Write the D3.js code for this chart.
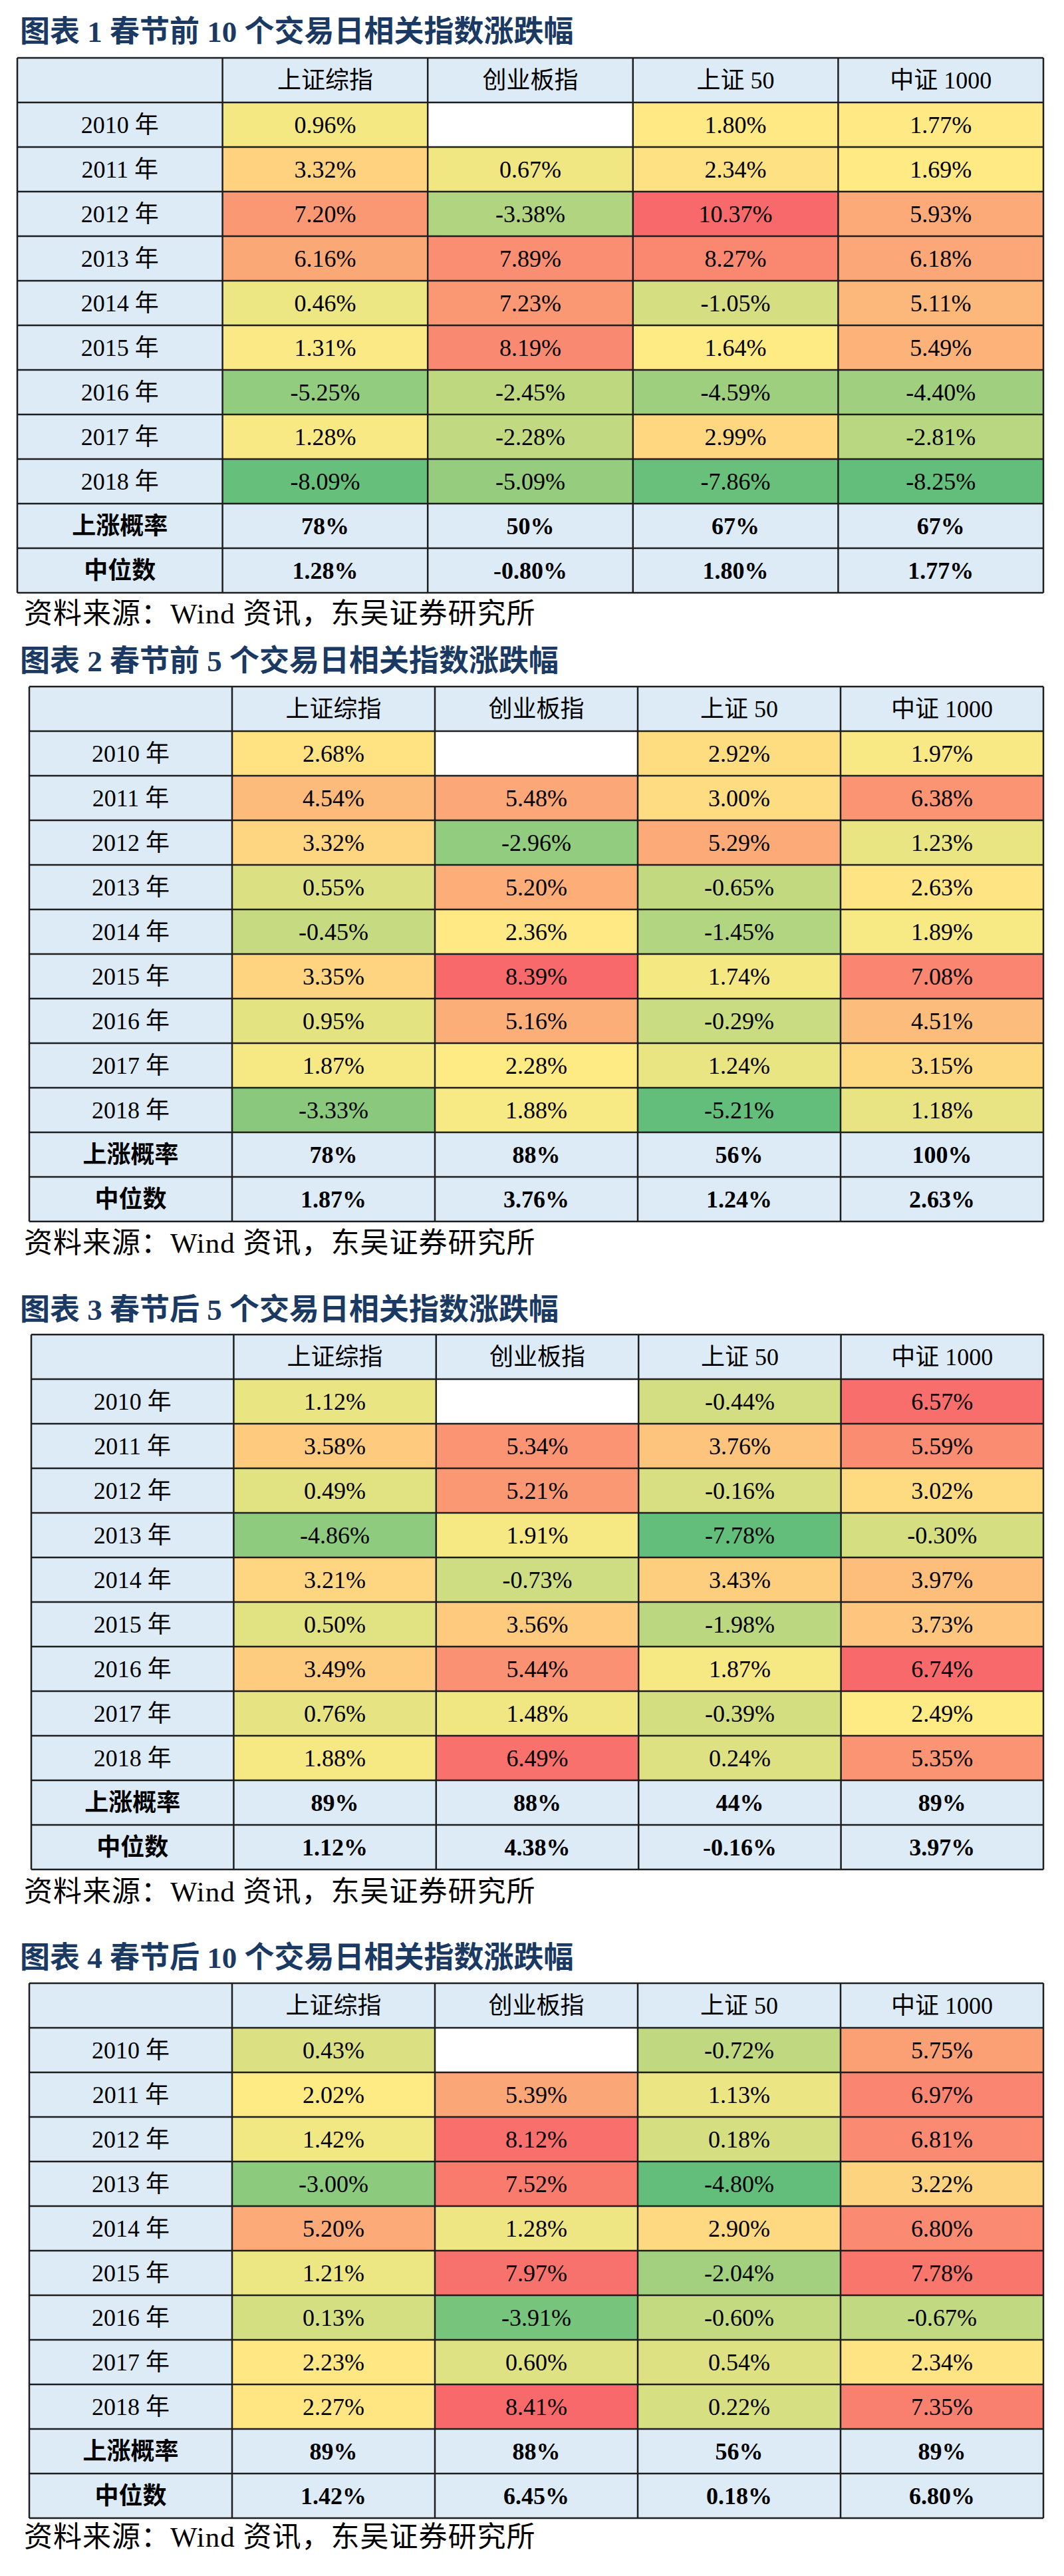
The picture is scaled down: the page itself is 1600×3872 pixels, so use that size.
<!DOCTYPE html>
<html>
<head>
<meta charset="utf-8">
<script src="https://cdn.jsdelivr.net/npm/d3@7/dist/d3.min.js"></script>
<style>
  html, body { margin: 0; padding: 0; background: #ffffff; }
  svg { display: block; }
</style>
</head>
<body>
<svg id="chart" width="1600" height="3872"></svg>
<script>
// ---------- DATA ----------
const years = ["2010 年", "2011 年", "2012 年", "2013 年", "2014 年", "2015 年", "2016 年", "2017 年", "2018 年"];
const columns = ["上证综指", "创业板指", "上证 50", "中证 1000"];
const summaryLabels = ["上涨概率", "中位数"];
const titles = [
  "图表 1 春节前 10 个交易日相关指数涨跌幅",
  "图表 2 春节前 5 个交易日相关指数涨跌幅",
  "图表 3 春节后 5 个交易日相关指数涨跌幅",
  "图表 4 春节后 10 个交易日相关指数涨跌幅"
];
const sourceText = "资料来源：Wind 资讯，东吴证券研究所";

// Table 1: 春节前10个交易日 (%)
const t1_szzz   = [0.96, 3.32, 7.20, 6.16, 0.46, 1.31, -5.25, 1.28, -8.09];
const t1_cybz   = [null, 0.67, -3.38, 7.89, 7.23, 8.19, -2.45, -2.28, -5.09];
const t1_sz50   = [1.80, 2.34, 10.37, 8.27, -1.05, 1.64, -4.59, 2.99, -7.86];
const t1_zz1000 = [1.77, 1.69, 5.93, 6.18, 5.11, 5.49, -4.40, -2.81, -8.25];
const t1_up     = ["78%", "50%", "67%", "67%"];
const t1_median = ["1.28%", "-0.80%", "1.80%", "1.77%"];

// Table 2: 春节前5个交易日 (%)
const t2_szzz   = [2.68, 4.54, 3.32, 0.55, -0.45, 3.35, 0.95, 1.87, -3.33];
const t2_cybz   = [null, 5.48, -2.96, 5.20, 2.36, 8.39, 5.16, 2.28, 1.88];
const t2_sz50   = [2.92, 3.00, 5.29, -0.65, -1.45, 1.74, -0.29, 1.24, -5.21];
const t2_zz1000 = [1.97, 6.38, 1.23, 2.63, 1.89, 7.08, 4.51, 3.15, 1.18];
const t2_up     = ["78%", "88%", "56%", "100%"];
const t2_median = ["1.87%", "3.76%", "1.24%", "2.63%"];

// Table 3: 春节后5个交易日 (%)
const t3_szzz   = [1.12, 3.58, 0.49, -4.86, 3.21, 0.50, 3.49, 0.76, 1.88];
const t3_cybz   = [null, 5.34, 5.21, 1.91, -0.73, 3.56, 5.44, 1.48, 6.49];
const t3_sz50   = [-0.44, 3.76, -0.16, -7.78, 3.43, -1.98, 1.87, -0.39, 0.24];
const t3_zz1000 = [6.57, 5.59, 3.02, -0.30, 3.97, 3.73, 6.74, 2.49, 5.35];
const t3_up     = ["89%", "88%", "44%", "89%"];
const t3_median = ["1.12%", "4.38%", "-0.16%", "3.97%"];

// Table 4: 春节后10个交易日 (%)
const t4_szzz   = [0.43, 2.02, 1.42, -3.00, 5.20, 1.21, 0.13, 2.23, 2.27];
const t4_cybz   = [null, 5.39, 8.12, 7.52, 1.28, 7.97, -3.91, 0.60, 8.41];
const t4_sz50   = [-0.72, 1.13, 0.18, -4.80, 2.90, -2.04, -0.60, 0.54, 0.22];
const t4_zz1000 = [5.75, 6.97, 6.81, 3.22, 6.80, 7.78, -0.67, 2.34, 7.35];
const t4_up     = ["89%", "88%", "56%", "89%"];
const t4_median = ["1.42%", "6.45%", "0.18%", "6.80%"];

// ---------- LAYOUT / STYLE ----------
const layouts = [
  { titleY: 47,   top: 87,   left: 26, right: 1569, srcY: 922 },
  { titleY: 993,  top: 1032, left: 44, right: 1569, srcY: 1868 },
  { titleY: 1968, top: 2006, left: 47, right: 1569, srcY: 2843 },
  { titleY: 2942, top: 2981, left: 44, right: 1569, srcY: 3813 }
];
const rowH = 67;
const FONT = "'Liberation Serif', 'Noto Sans CJK SC', serif";
const headBg = "#DDEBF7";
const lineColor = "#1e1e1e";

const tables = [
  { series: [t1_szzz, t1_cybz, t1_sz50, t1_zz1000], up: t1_up, med: t1_median },
  { series: [t2_szzz, t2_cybz, t2_sz50, t2_zz1000], up: t2_up, med: t2_median },
  { series: [t3_szzz, t3_cybz, t3_sz50, t3_zz1000], up: t3_up, med: t3_median },
  { series: [t4_szzz, t4_cybz, t4_sz50, t4_zz1000], up: t4_up, med: t4_median }
];

const svg = d3.select("#chart");
svg.append("rect").attr("width", 1600).attr("height", 3872).attr("fill", "#ffffff");
const locale = d3.formatLocale({ decimal: ".", thousands: ",", grouping: [3], currency: ["", ""], minus: "-" });
const fmt = locale.format(".2f");

tables.forEach((tb, ti) => {
  const L = layouts[ti];
  const g = svg.append("g");

  // Title
  g.append("text")
    .attr("x", 30).attr("y", L.titleY).attr("dy", "0.36em")
    .attr("font-family", FONT).attr("font-size", 45).attr("font-weight", 700)
    .attr("fill", "#1B3A63")
    .text(titles[ti]);

  const colKeys = ["label"].concat(columns);
  const rowKeys = ["header"].concat(years, summaryLabels);
  const x = d3.scaleBand().domain(colKeys).range([L.left, L.right]);
  const y = d3.scaleBand().domain(rowKeys).range([L.top, L.top + rowH * rowKeys.length]);

  // color scale across the whole table (3-colour scale: min / median / max)
  const all = tb.series.flat().filter(v => v != null);
  const color = d3.scaleLinear()
    .domain([d3.min(all), d3.median(all), d3.max(all)])
    .range(["#63BE7B", "#FFEB84", "#F8696B"])
    .interpolate(d3.interpolateRgb);

  // Build cells
  const cells = [];
  cells.push({ r: "header", c: "label", text: "", fill: headBg, bold: false });
  columns.forEach(c => cells.push({ r: "header", c: c, text: c, fill: headBg, bold: false }));
  years.forEach((yr, i) => {
    cells.push({ r: yr, c: "label", text: yr, fill: headBg, bold: false });
    columns.forEach((c, j) => {
      const v = tb.series[j][i];
      cells.push({ r: yr, c: c, text: v == null ? "" : fmt(v) + "%", fill: v == null ? "#ffffff" : color(v), bold: false });
    });
  });
  cells.push({ r: summaryLabels[0], c: "label", text: summaryLabels[0], fill: headBg, bold: true });
  columns.forEach((c, j) => cells.push({ r: summaryLabels[0], c: c, text: tb.up[j], fill: headBg, bold: true }));
  cells.push({ r: summaryLabels[1], c: "label", text: summaryLabels[1], fill: headBg, bold: true });
  columns.forEach((c, j) => cells.push({ r: summaryLabels[1], c: c, text: tb.med[j], fill: headBg, bold: true }));

  g.selectAll("rect.cell").data(cells).join("rect")
    .attr("class", "cell")
    .attr("x", d => x(d.c)).attr("y", d => y(d.r))
    .attr("width", x.bandwidth()).attr("height", y.bandwidth())
    .attr("fill", d => d.fill);

  g.selectAll("text.cell").data(cells.filter(d => d.text)).join("text")
    .attr("class", "cell")
    .attr("x", d => x(d.c) + x.bandwidth() / 2)
    .attr("y", d => y(d.r) + y.bandwidth() / 2)
    .attr("dy", "0.35em")
    .attr("text-anchor", "middle")
    .attr("font-family", FONT)
    .attr("font-size", 36)
    .attr("font-weight", d => d.bold ? 700 : 400)
    .attr("fill", "#000")
    .text(d => d.text);

  // Grid lines
  const yEdges = rowKeys.map(k => y(k)).concat([y.range()[1]]);
  const xEdges = colKeys.map(k => x(k)).concat([x.range()[1]]);
  g.selectAll("line.h").data(yEdges).join("line")
    .attr("x1", L.left).attr("x2", L.right)
    .attr("y1", d => d).attr("y2", d => d)
    .attr("stroke", lineColor).attr("stroke-width", 2.5);
  g.selectAll("line.v").data(xEdges).join("line")
    .attr("x1", d => d).attr("x2", d => d)
    .attr("y1", y.range()[0]).attr("y2", y.range()[1])
    .attr("stroke", lineColor).attr("stroke-width", 2.5);

  // Source note
  g.append("text")
    .attr("x", 36).attr("y", L.srcY).attr("dy", "0.36em")
    .attr("font-family", FONT).attr("font-size", 43)
    .attr("letter-spacing", 1)
    .attr("fill", "#000")
    .text(sourceText);
});
</script>
</body>
</html>
